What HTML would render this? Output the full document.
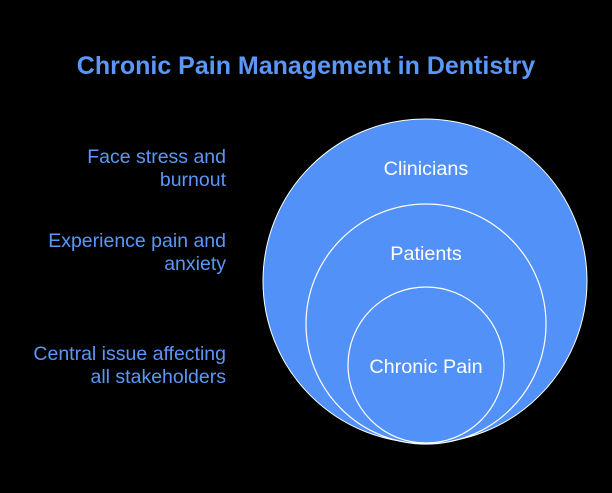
<!DOCTYPE html>
<html><head><style>
body{margin:0;background:#000;width:612px;height:493px;overflow:hidden;font-family:"Liberation Sans",sans-serif;}
.l{position:absolute;right:386px;text-align:right;color:#5b97f8;font-size:19.5px;line-height:23px;white-space:nowrap;}
</style></head><body>
<div style="position:absolute;left:0;width:612px;top:52px;text-align:center;color:#5b97f8;font-weight:bold;font-size:25px;white-space:nowrap;">Chronic Pain Management in Dentistry</div>
<div class="l" style="top:146px">Face stress and<br>burnout</div>
<div class="l" style="top:230px">Experience pain and<br>anxiety</div>
<div class="l" style="top:343px">Central issue affecting<br>all stakeholders</div>
<svg width="612" height="493" style="position:absolute;left:0;top:0">
<circle cx="425" cy="281" r="162" fill="#5291f8" stroke="#fff" stroke-width="1"/>
<circle cx="426" cy="324" r="120" fill="#5291f8" stroke="#fff" stroke-width="1.2"/>
<circle cx="426" cy="365" r="78" fill="#5291f8" stroke="#fff" stroke-width="1.2"/>
<g fill="#fff" font-family="Liberation Sans, sans-serif" font-size="19.8" text-anchor="middle">
<text x="426" y="175">Clinicians</text>
<text x="426" y="260">Patients</text>
<text x="426" y="373">Chronic Pain</text>
</g>
</svg>
</body></html>
